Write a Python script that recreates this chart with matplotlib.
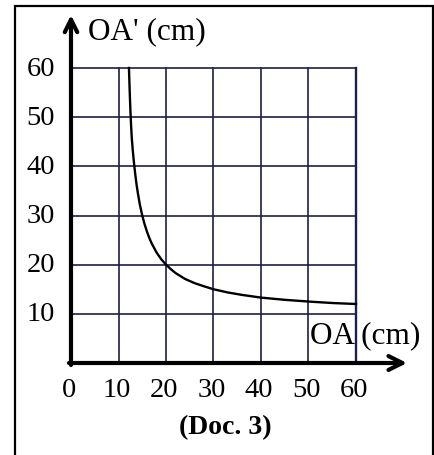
import matplotlib
matplotlib.use("Agg")
import matplotlib.pyplot as plt
from matplotlib.patches import Rectangle

# Data
oa = [12.2, 12.35, 12.5, 12.65, 12.8, 13, 13.25, 13.5, 13.8, 14.1, 14.5, 15, 15.5, 16,
      16.5, 17, 18, 19, 20, 21, 22, 24, 26, 28, 30, 33, 36, 40, 45, 50, 55, 60]
oa_img = [60, 55.5, 51.5, 48.3, 45.7, 43.3, 40.8, 38.6, 36.3, 34.4, 32.2, 30, 28.2, 26.7,
          25.4, 24.3, 22.5, 21.1, 20, 19.1, 18.3, 17.1, 16.25, 15.6, 15, 14.35, 13.85,
          13.3, 12.85, 12.5, 12.2, 12.0]
xticks = [0, 10, 20, 30, 40, 50, 60]
yticks = [10, 20, 30, 40, 50, 60]

W, H = 435, 456
fig = plt.figure(figsize=(W / 100, H / 100), dpi=100)
fig.patch.set_facecolor("white")

# outer frame
fig.patches.append(Rectangle((15 / W, -0.01), (433 - 15) / W, (456 - 7) / H + 0.01,
                             transform=fig.transFigure, fill=False,
                             edgecolor="black", linewidth=1.6))

x0, y0 = 71, 364
x1, y1 = 356, 69
ax = fig.add_axes([x0 / W, (H - y0) / H, (x1 - x0) / W, (y0 - y1) / H])
ax.set_xlim(0, 60)
ax.set_ylim(0, 60)
for s in ax.spines.values():
    s.set_visible(False)
ax.set_xticks([])
ax.set_yticks([])

grid_c = "#1e1e48"
for v in xticks[1:]:
    ax.plot([v, v], [0, 60], color=grid_c, lw=1.2, zorder=1, clip_on=False)
for v in yticks:
    ax.plot([0, 60], [v, v], color=grid_c, lw=1.2, zorder=1, clip_on=False)
ax.plot([60, 60], [0, 60], color=grid_c, lw=1.7, zorder=1, clip_on=False)

ax.plot(oa, oa_img, color="black", lw=1.7, zorder=3, clip_on=False)

# axes arrows
ax.annotate("", xy=(407 / W, (H - 364) / H), xytext=(69 / W, (H - 364) / H),
            xycoords="figure fraction", textcoords="figure fraction",
            arrowprops=dict(arrowstyle="->,head_length=1.0,head_width=0.5",
                            lw=3.0, color="black", shrinkA=0, shrinkB=0),
            annotation_clip=False)
ax.annotate("", xy=(71 / W, (H - 16) / H), xytext=(71 / W, (H - 366) / H),
            xycoords="figure fraction", textcoords="figure fraction",
            arrowprops=dict(arrowstyle="->,head_length=0.9,head_width=0.45",
                            lw=3.0, color="black", shrinkA=0, shrinkB=0),
            annotation_clip=False)

font = ["Liberation Serif", "DejaVu Serif"]
tick_fs = 20.5
for v in xticks:
    ax.text(v - 0.4, -5.4, str(v), ha="center", va="center", fontsize=tick_fs, family=font)
for v in yticks:
    ax.text(-3.4, v, str(v), ha="right", va="center", fontsize=tick_fs, family=font)

fig.text(88 / W, (H - 32) / H, "OA' (cm)", ha="left", va="center", fontsize=22.5, family=font)
fig.text(310 / W, (H - 336) / H, "OA (cm)", ha="left", va="center", fontsize=22.5, family=font)
fig.text(225 / W, (H - 428) / H, "(Doc. 3)", ha="center", va="center", fontsize=20,
         family=font, fontweight="bold")

fig.savefig("out.png", dpi=100)
